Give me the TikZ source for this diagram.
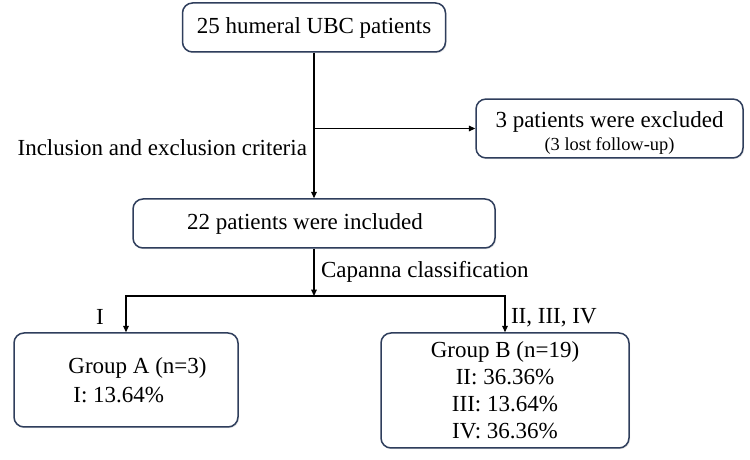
\documentclass[tikz,border=0pt]{standalone}
\usepackage{fontspec}
\setmainfont{Liberation Serif}
\usetikzlibrary{arrows.meta,positioning,shadows}
\definecolor{boxline}{RGB}{47,62,92}

\begin{document}
\begin{tikzpicture}[
  x=0.5pt,y=0.5pt,
  font=\fontsize{11.5}{13.5}\selectfont,
  box/.style={draw=boxline,line width=0.75pt,rounded corners=5pt,fill=white,inner sep=2pt,align=center,
    drop shadow={shadow xshift=0.6pt,shadow yshift=-0.6pt,opacity=0.15,fill=black!60}},
  flow/.style={line width=0.6pt,-{Triangle[length=3.2pt,width=2.8pt]}}
]
  \useasboundingbox (0,0) rectangle (750,460);

  \node[box,minimum width=131.5pt,minimum height=24.5pt] (total) at (314,432.5) {25 humeral UBC patients};
  \node[box,minimum width=133.5pt,minimum height=26.5pt] (excluded) at (609.5,331.5)
    {\rule{0pt}{12pt}3 patients were excluded\\[-2pt]{\fontsize{9.2}{11}\selectfont (3 lost follow-up)}};
  \node[box,minimum width=181pt,minimum height=24.5pt] (included) at (314,236.5) {22 patients were included\hspace*{9pt}};
  \node[box,minimum width=112pt,minimum height=47pt,align=left] (groupA) at (126,80)
    {\hspace*{11.5pt}Group A (n=3)\\[1pt]\hspace*{14pt}I: 13.64\%};
  \node[box,minimum width=124pt,minimum height=57.5pt] (groupB) at (505,69.5)
    {Group B (n=19)\\II: 36.36\%\\III: 13.64\%\\IV: 36.36\%};

  \coordinate (branch) at (total.south |- excluded.west);
  \coordinate (split) at (314,164);

  \node[left] (criteria) at (314,312) {Inclusion and exclusion criteria};
  \node[right] (capanna) at (314,188) {Capanna classification};
  \node (gradeA) at (100,143) {I};
  \node[right] (gradeB) at (504,142) {II, III, IV};

  \draw[flow] (total) -- (included);
  \draw[flow] (branch) -- (excluded);
  \draw[flow] (included) -- (split);
  \draw[flow] (split) -| (groupA);
  \draw[flow] (split) -| (groupB);
\end{tikzpicture}
\end{document}
